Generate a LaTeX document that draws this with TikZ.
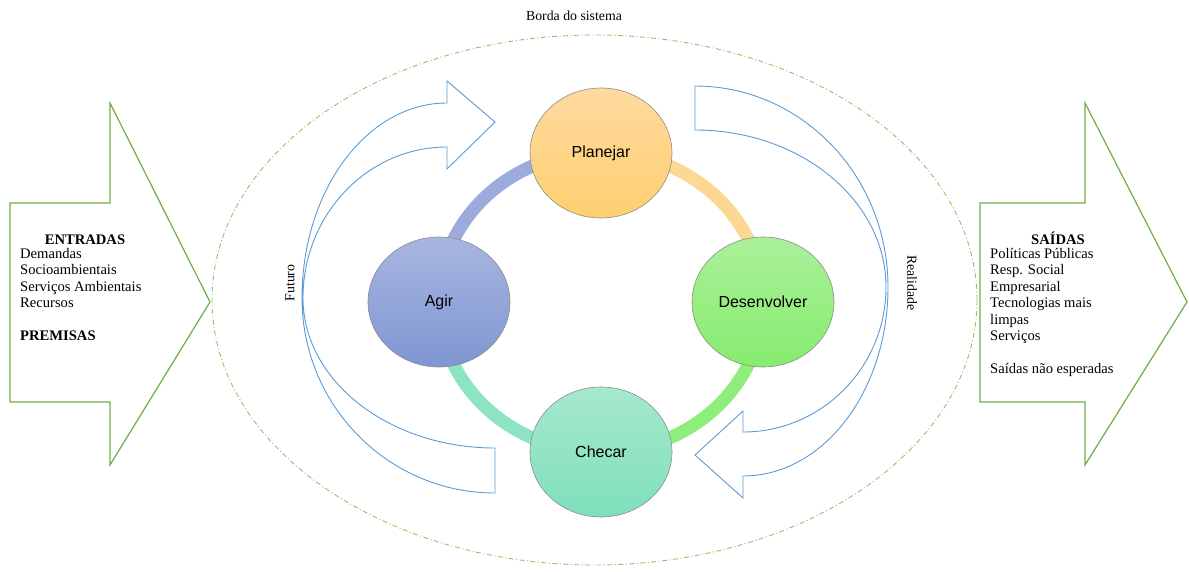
\documentclass[tikz,border=0pt]{standalone}
\usepackage{fontspec}
\setmainfont{Liberation Serif}
\newfontfamily\labelsans{Liberation Sans}
\usetikzlibrary{shapes.geometric}
\definecolor{arrgreen}{HTML}{70AD47}
\definecolor{bordgreen}{HTML}{8CC66A}
\definecolor{cblue}{HTML}{5B9BD5}
\definecolor{ringorange}{HTML}{FDD894}
\definecolor{ringgreen}{HTML}{8EEE7C}
\definecolor{ringteal}{HTML}{8CE4C2}
\definecolor{ringblue}{HTML}{9DABDC}
\tikzset{
  bigarrow/.style={draw=arrgreen, line width=1.2pt, fill=white, line join=miter},
  cyclearrow/.style={draw=cblue, line width=0.9pt, fill=white},
  ringseg/.style={line width=13pt},
  phase/.style={ellipse, minimum width=142pt, minimum height=130pt, inner sep=0pt,
    draw=black!45, line width=0.6pt, font=\labelsans\fontsize{16}{19}\selectfont},
  bodytext/.style={align=left, anchor=north west, inner sep=0pt,
    font=\fontsize{14.6}{16.5}\selectfont},
  headtext/.style={inner sep=0pt, anchor=base, font=\fontsize{14.6}{16.5}\selectfont\bfseries},
  sidelabel/.style={inner sep=0pt, font=\fontsize{13.8}{16}\selectfont}
}
\begin{document}
\begin{tikzpicture}[x=1pt, y=-1pt]
\useasboundingbox (0,0) rectangle (1189,572);

% big input / output arrows
\draw[bigarrow] (10,203) -- (110,203) -- (110,103) -- (210,302) -- (110,465) -- (110,402) -- (10,402) -- cycle;
\draw[bigarrow] (980,203) -- (1085,203) -- (1085,103) -- (1187,302) -- (1085,465) -- (1085,402) -- (980,402) -- cycle;

% system border
\draw[bordgreen, line width=0.9pt, dash pattern=on 5pt off 2.5pt on 1pt off 2.5pt]
  (594.5,300) ellipse [x radius=382.5, y radius=265];
\node[sidelabel] (borda) at (574,16) {Borda do sistema};

% ring
\draw[ringseg, ringorange] (601,302) ++(270:162 and 150) arc[start angle=270, end angle=360, x radius=162, y radius=150];
\draw[ringseg, ringgreen]  (601,302) ++(0:162 and 150) arc[start angle=0, end angle=90, x radius=162, y radius=150];
\draw[ringseg, ringteal]   (601,302) ++(90:162 and 150) arc[start angle=90, end angle=180, x radius=162, y radius=150];
\draw[ringseg, ringblue]   (601,302) ++(180:162 and 150) arc[start angle=180, end angle=270, x radius=162, y radius=150];

% phases
\node[phase, top color={rgb,255:red,255;green,218;blue,160}, bottom color={rgb,255:red,255;green,207;blue,110}] (plan) at (601,153) {Planejar};
\node[phase, top color={rgb,255:red,168;green,182;blue,224}, bottom color={rgb,255:red,126;green,150;blue,210}] (agir) at (439,302) {Agir};
\node[phase, top color={rgb,255:red,170;green,240;blue,154}, bottom color={rgb,255:red,134;green,236;blue,110}] (desenv) at (763,302) {Desenvolver};
\node[phase, top color={rgb,255:red,166;green,232;blue,206}, bottom color={rgb,255:red,126;green,224;blue,188}] (checar) at (601,452) {Checar};

% curved cycle arrows
\draw[cyclearrow] (495,493) -- (495,448)
  arc[start angle=90, end angle=180, x radius=192, y radius=150]
  arc[start angle=180, end angle=270, x radius=144, y radius=151]
  -- (447,169) -- (495,122) -- (447,81) -- (447,103)
  arc[start angle=270, end angle=180, x radius=145, y radius=195]
  arc[start angle=180, end angle=90, x radius=193, y radius=195]
  -- cycle;
\draw[cyclearrow] (695,86) -- (695,130)
  arc[start angle=270, end angle=360, x radius=191, y radius=157]
  arc[start angle=0, end angle=90, x radius=143, y radius=145]
  -- (743,411) -- (695,455) -- (743,498) -- (743,476)
  arc[start angle=90, end angle=0, x radius=145, y radius=189]
  arc[start angle=360, end angle=270, x radius=193, y radius=201]
  -- cycle;

\node[sidelabel, rotate=90] (futuro) at (290,283) {Futuro};
\node[sidelabel, rotate=-90] (realidade) at (912,283) {Realidade};

% texts
\node[headtext] (entr) at (85,244) {ENTRADAS};
\node[bodytext] (entrtext) at (20,248) {Demandas\\Socioambientais\\Serviços Ambientais\\Recursos\\[16.5pt]\textbf{PREMISAS}};
\node[headtext] (said) at (1058,244) {SAÍDAS};
\node[bodytext] (saidtext) at (990,248) {Políticas Públicas\\Resp. Social\\Empresarial\\Tecnologias mais\\limpas\\Serviços\\[16.5pt]Saídas não esperadas};
\end{tikzpicture}
\end{document}
